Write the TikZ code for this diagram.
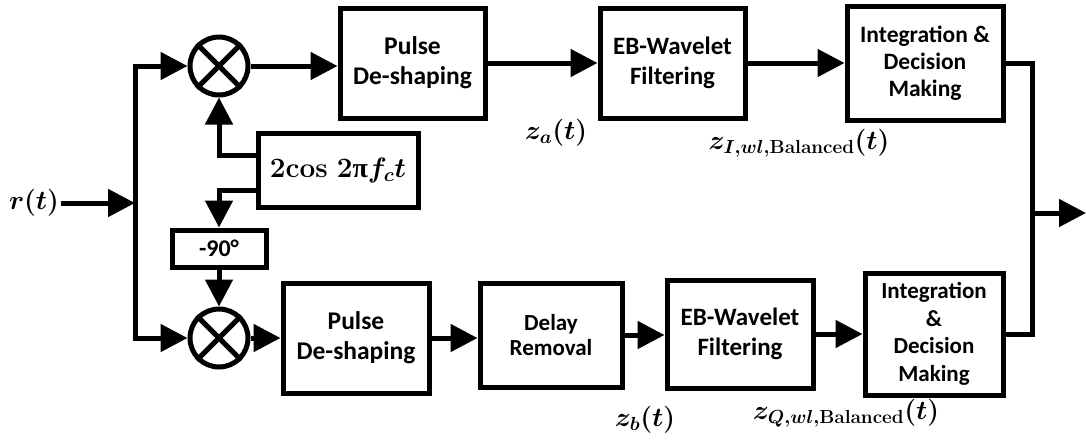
\documentclass[tikz,border=0pt]{standalone}
\usepackage{fix-cm}
\usepackage{amsmath,bm}
\usepackage{fontspec}
\setmainfont{Carlito}
\newfontfamily\pifont{Liberation Serif}
\usetikzlibrary{arrows.meta,calc}

\begin{document}
\begin{tikzpicture}[x=1pt,y=-1pt,
  line width=5pt, line join=miter,
  blk/.style={draw,rectangle,line width=5pt,align=center,inner sep=0pt,
    font=\bfseries\fontsize{25.5}{30}\selectfont},
  mix/.style={draw,circle,minimum size=58pt,inner sep=0pt,line width=5pt},
  sig/.style={-{Triangle[length=27pt,width=27pt]},line width=5pt},
  wire/.style={line width=5pt},
  lbl/.style={inner sep=0pt,font=\fontsize{27}{30}\selectfont\boldmath}
]
\useasboundingbox (0,0) rectangle (1086,440);

% mixers
\node[mix] (m1) at (219,66) {};
\node[mix] (m2) at (219,338) {};
\foreach \m in {m1,m2}{
  \draw[wire] (\m.north west) -- (\m.south east);
  \draw[wire] (\m.north east) -- (\m.south west);
}

% in-phase branch
\node[blk,minimum width=145pt,minimum height=110pt] (p1) at (412.5,63) {Pulse\\De-shaping};
\node[blk,minimum width=145pt,minimum height=110pt,font=\bfseries\fontsize{25}{30}\selectfont] (e1) at (672.5,63) {EB-Wavelet\\Filtering};
\node[blk,minimum width=156pt,minimum height=114pt,font=\bfseries\fontsize{23.5}{27}\selectfont] (i1) at (925,63.5) {Integration \&\\Decision\\Making};

% local oscillator and phase shifter
\newcommand\oscpi{{\pifont\bfseries π}}
\node[blk,minimum width=160pt,minimum height=74pt,font=\fontsize{28}{30}\selectfont\boldmath] (osc) at (338,170) {$\mathbf{2cos}\;\mathbf{2}$\oscpi$f_c t$};
\node[blk,minimum width=94pt,minimum height=37pt,font=\bfseries\fontsize{24}{26}\selectfont] (ph) at (219,248.5) {-90°};

% quadrature branch
\node[blk,minimum width=146pt,minimum height=110pt] (p2) at (356,338) {Pulse\\De-shaping};
\node[blk,minimum width=142pt,minimum height=104pt,font=\bfseries\fontsize{23}{25.5}\selectfont] (dl) at (551,335) {Delay\\Removal};
\node[blk,minimum width=146pt,minimum height=108pt,font=\bfseries\fontsize{25}{30}\selectfont] (e2) at (740,334) {EB-Wavelet\\Filtering};
\node[blk,minimum width=138pt,minimum height=122pt,font=\bfseries\fontsize{23}{27.5}\selectfont] (i2) at (934,334) {Integration\\\&\\Decision\\Making};

% signal labels
\node[lbl] (rt) at (34,203) {$r(t)$};
\node[lbl] (za) at (556,133) {$z_a(t)$};
\node[lbl] (zi) at (799,143) {$z_{I,wl,\mathbf{Balanced}}(t)$};
\node[lbl] (zb) at (645,420) {$z_b(t)$};
\node[lbl] (zq) at (846,413) {$z_{Q,wl,\mathbf{Balanced}}(t)$};

% branch points
\coordinate (split) at (135,203);
\coordinate (join) at (1032,213);
\coordinate (out) at (1086,213);

% input split
\draw[sig] (rt.east) -- (split);
\draw[sig] (split) |- (m1.west);
\draw[sig] (split) |- (m2.west);

% oscillator feeds
\draw[sig] ($(osc.west)+(0,-15)$) -| (m1.south);
\draw[sig] ($(osc.west)+(0,20)$) -| (ph.north);
\draw[sig] (ph.south) -- (m2.north);

% in-phase chain
\draw[sig] (m1.east) -- (m1.east -| p1.west);
\draw[sig] (p1.east) -- (e1.west);
\draw[sig] (e1.east) -- (e1.east -| i1.west);

% quadrature chain
\draw[sig] (m2.east) -- (p2.west);
\draw[sig] (p2.east) -- (p2.east -| dl.west);
\draw[sig] (dl.east) -- (dl.east -| e2.west);
\draw[sig] (e2.east) -- (e2.east -| i2.west);

% combined output
\draw[wire] (i1.east) -| (join);
\draw[wire] (i2.east) -| (join);
\draw[sig] (join) -- (out);
\end{tikzpicture}
\end{document}
